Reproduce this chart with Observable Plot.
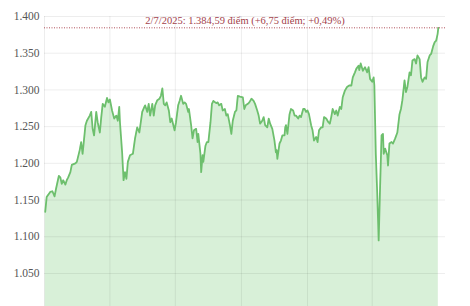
<!DOCTYPE html>
<html>
<head>
<meta charset="utf-8">
<script src="https://cdn.jsdelivr.net/npm/d3@7"></script>
<script src="https://cdn.jsdelivr.net/npm/@observablehq/plot@0.6"></script>
<style>
  html, body { margin: 0; padding: 0; background: #fff; }
  #chart svg { display: block; }
</style>
</head>
<body>
<div id="chart"></div>
<script>
// VN-Index closes (date, points)
const dates = [
  "2024-01-02","2024-01-04","2024-01-09","2024-01-12","2024-01-15","2024-01-17","2024-01-21","2024-01-23","2024-01-25","2024-01-27",
  "2024-01-30","2024-02-01","2024-02-03","2024-02-06","2024-02-08","2024-02-13","2024-02-15","2024-02-19","2024-02-21","2024-02-23",
  "2024-02-27","2024-02-29","2024-03-04","2024-03-06","2024-03-08","2024-03-10","2024-03-13","2024-03-15","2024-03-18","2024-03-20",
  "2024-03-22","2024-03-25","2024-03-28","2024-03-30","2024-04-01","2024-04-04","2024-04-07","2024-04-10","2024-04-12","2024-04-14",
  "2024-04-15","2024-04-18","2024-04-20","2024-04-22","2024-04-24","2024-04-26","2024-04-29","2024-05-03","2024-05-06","2024-05-09",
  "2024-05-12","2024-05-16","2024-05-19","2024-05-20","2024-05-23","2024-05-25","2024-05-27","2024-05-30","2024-06-01","2024-06-03",
  "2024-06-06","2024-06-09","2024-06-11","2024-06-13","2024-06-15","2024-06-17","2024-06-19","2024-06-22","2024-06-24","2024-06-26",
  "2024-06-30","2024-07-02","2024-07-05","2024-07-07","2024-07-09","2024-07-12","2024-07-14","2024-07-16","2024-07-19","2024-07-20",
  "2024-07-23","2024-07-25","2024-07-27","2024-07-30","2024-08-01","2024-08-02","2024-08-05","2024-08-06","2024-08-08","2024-08-09",
  "2024-08-12","2024-08-14","2024-08-16","2024-08-19","2024-08-21","2024-08-23","2024-08-27","2024-08-29","2024-08-31","2024-09-03",
  "2024-09-05","2024-09-08","2024-09-10","2024-09-12","2024-09-15","2024-09-17","2024-09-19","2024-09-22","2024-09-24","2024-09-26",
  "2024-09-29","2024-10-03","2024-10-05","2024-10-07","2024-10-10","2024-10-12","2024-10-15","2024-10-18","2024-10-20","2024-10-23",
  "2024-10-25","2024-10-27","2024-10-30","2024-11-01","2024-11-03","2024-11-06","2024-11-08","2024-11-10","2024-11-13","2024-11-16",
  "2024-11-18","2024-11-19","2024-11-20","2024-11-23","2024-11-25","2024-11-27","2024-11-30","2024-12-01","2024-12-02","2024-12-04",
  "2024-12-07","2024-12-09","2024-12-12","2024-12-14","2024-12-16","2024-12-19","2024-12-21","2024-12-23","2024-12-26","2024-12-28",
  "2024-12-30","2025-01-01","2025-01-03","2025-01-06","2025-01-08","2025-01-10","2025-01-13","2025-01-15","2025-01-17","2025-01-20",
  "2025-01-22","2025-01-24","2025-01-27","2025-01-30","2025-02-01","2025-02-03","2025-02-05","2025-02-08","2025-02-10","2025-02-12",
  "2025-02-15","2025-02-17","2025-02-19","2025-02-22","2025-02-25","2025-02-28","2025-03-03","2025-03-05","2025-03-08","2025-03-10",
  "2025-03-13","2025-03-14","2025-03-16","2025-03-19","2025-03-22","2025-03-25","2025-03-27","2025-03-29","2025-04-01","2025-04-03",
  "2025-04-04","2025-04-06","2025-04-08","2025-04-10","2025-04-12","2025-04-14","2025-04-16","2025-04-17","2025-04-19","2025-04-22",
  "2025-04-23","2025-04-25","2025-04-28","2025-04-30","2025-05-03","2025-05-06","2025-05-09","2025-05-11","2025-05-13","2025-05-16",
  "2025-05-18","2025-05-20","2025-05-23","2025-05-25","2025-05-27","2025-05-30","2025-06-01","2025-06-03","2025-06-06","2025-06-08",
  "2025-06-10","2025-06-13","2025-06-15","2025-06-17","2025-06-20","2025-06-22","2025-06-25","2025-06-27","2025-06-29","2025-07-01",
  "2025-07-02"
];
const values = [
  1134,1154,1161,1162,1155,1165,1183,1181,1172,1177,
  1171,1177,1181,1188,1198,1200,1202,1218,1229,1213,
  1252,1258,1265,1270,1247,1238,1270,1256,1242,1263,
  1281,1277,1289,1283,1287,1272,1261,1265,1258,1277,
  1256,1215,1177,1188,1179,1202,1211,1213,1234,1249,
  1242,1270,1277,1279,1270,1281,1265,1281,1265,1279,
  1286,1288,1292,1302,1281,1279,1283,1272,1256,1261,
  1245,1256,1279,1285,1292,1281,1283,1281,1270,1274,
  1252,1234,1245,1247,1229,1240,1213,1188,1211,1202,
  1224,1229,1229,1256,1281,1285,1282,1283,1279,1281,
  1272,1274,1265,1267,1252,1240,1258,1270,1272,1292,
  1291,1290,1274,1279,1281,1283,1288,1285,1281,1272,
  1265,1254,1258,1263,1252,1249,1261,1254,1247,1231,
  1215,1218,1206,1227,1231,1238,1238,1249,1252,1240,
  1267,1274,1272,1265,1265,1261,1265,1263,1274,1274,
  1270,1272,1267,1252,1245,1231,1236,1229,1245,1249,
  1249,1263,1261,1256,1254,1263,1274,1267,1272,1265,
  1277,1274,1290,1299,1304,1306,1306,1317,1324,1329,
  1333,1327,1336,1326,1331,1324,1331,1315,1311,1317,
  1306,1213,1159,1095,1168,1238,1240,1213,1220,1211,
  1197,1227,1229,1227,1234,1242,1267,1274,1286,1313,
  1297,1304,1324,1320,1340,1342,1336,1347,1342,1317,
  1311,1317,1315,1338,1347,1349,1360,1365,1367,1376,
  1384.59
];
const yTicks = [1050, 1100, 1150, 1200, 1250, 1300, 1350, 1400];
const quarterTicks = ["2024-01-01","2024-04-01","2024-07-01","2024-10-01","2025-01-01","2025-04-01"];
const xDomain = ["2024-01-01", "2025-07-12"];
const yDomain = [1005, 1400];
const lastLabel = "2/7/2025: 1.384,59 điểm (+6,75 điểm; +0,49%)";

const data = dates.map((d, i) => ({date: new Date(d), value: values[i]}));
const last = data[data.length - 1];
const vn = d3.formatLocale({decimal: ",", thousands: ".", grouping: [3], currency: ["", ""]});
const fmt = vn.format(",");
const serif = "'Liberation Serif', 'DejaVu Serif', serif";

const chart = Plot.plot({
  width: 470,
  height: 306,
  marginLeft: 44,
  marginRight: 25,
  marginTop: 16,
  marginBottom: 0,
  style: {fontFamily: serif, background: "#fff"},
  x: {type: "utc", domain: xDomain.map(d => new Date(d)), axis: null},
  y: {domain: yDomain, label: null, axis: null},
  marks: [
    Plot.areaY(data, {x: "date", y1: yDomain[0], y2: "value", fill: "#d8f0d8", curve: "linear"}),
    Plot.gridY(yTicks, {stroke: "#000", strokeOpacity: 0.07}),
    Plot.ruleX(quarterTicks.map(d => new Date(d)), {y1: yDomain[0], y2: yDomain[1], stroke: "#000", strokeOpacity: 0.07}),
    Plot.axisY(yTicks, {tickFormat: fmt, tickSize: 0, tickPadding: 5, label: null, fontFamily: serif, fontSize: 11.5, fill: "#555"}),
    Plot.lineY(data, {x: "date", y: "value", stroke: "#6dbf6d", strokeWidth: 1.8, curve: "linear"}),
    Plot.ruleY([last.value], {stroke: "#b0505a", strokeWidth: 1, strokeDasharray: "1,1.5"}),
    Plot.text([lastLabel], {frameAnchor: "top", dy: 4, lineAnchor: "middle", fill: "#a3414b", fontSize: 10.5, fontFamily: serif})
  ]
});
document.getElementById("chart").appendChild(chart);
</script>
</body>
</html>
